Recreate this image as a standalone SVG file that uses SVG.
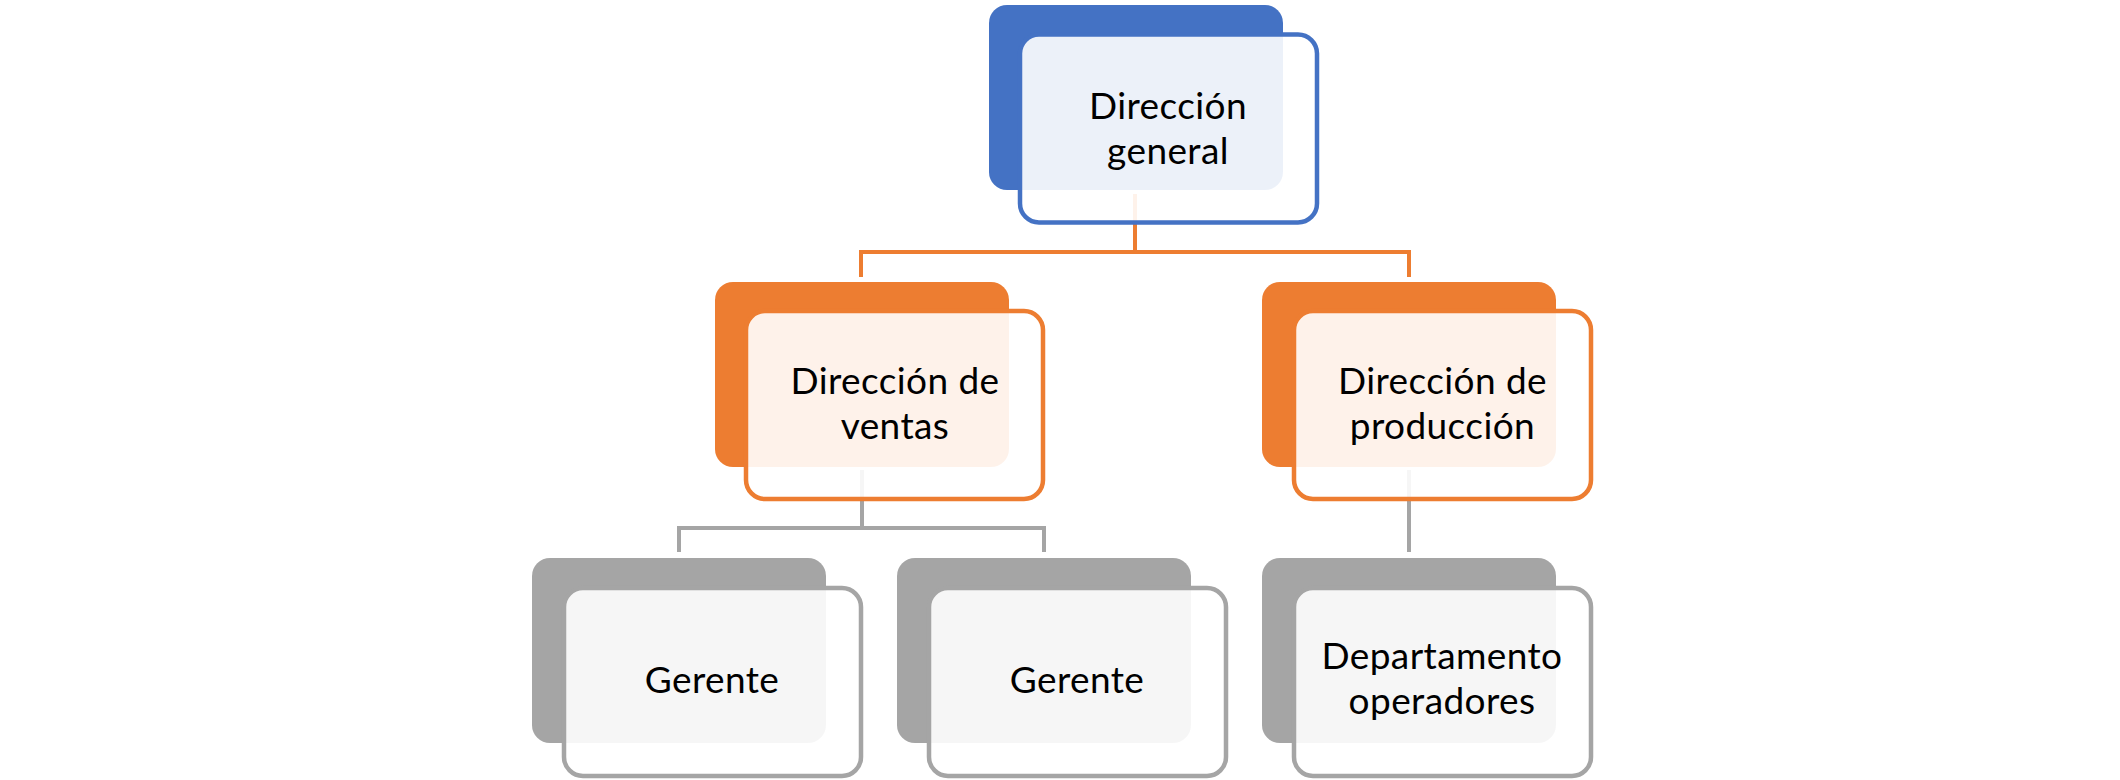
<svg xmlns="http://www.w3.org/2000/svg" width="2120" height="780" viewBox="0 0 2120 780">
<style>
.back{stroke:none}
.front{fill:#ffffff;fill-opacity:0.9;stroke-width:4.5}
.blue .back{fill:#4472C4}.blue .front{stroke:#4472C4}
.orange .back{fill:#ED7D31}.orange .front{stroke:#ED7D31}
.gray .back{fill:#A5A5A5}.gray .front{stroke:#A5A5A5}
.lbl{font-family:Lato,"Open Sans","Liberation Sans",sans-serif;font-size:37px;letter-spacing:0.4px;fill:#000000;text-anchor:middle}
.conn{fill:none;stroke-width:4;stroke-linejoin:miter}
</style>
<rect width="2120" height="780" fill="#ffffff"/>
<g id="connectors">
<path class="conn" stroke="#ED7D31" d="M1135 194 V252 M861 277 V252 H1409 V277"/>
<path class="conn" stroke="#A5A5A5" d="M862 470 V528 M679 552 V528 H1044 V552"/>
<path class="conn" stroke="#A5A5A5" d="M1409 470 V552"/>
</g>
<g id="node-direccion-general" class="blue">
<rect class="back" x="989" y="5" width="294" height="185" rx="18"/>
<rect class="front" x="1020" y="34.5" width="297" height="188" rx="19"/>
<text class="lbl" x="1168" y="119">Dirección</text>
<text class="lbl" x="1168" y="164">general</text>
</g>
<g id="node-direccion-ventas" class="orange">
<rect class="back" x="715" y="282" width="294" height="185" rx="18"/>
<rect class="front" x="746" y="311" width="297" height="188" rx="19"/>
<text class="lbl" x="895" y="394">Dirección de</text>
<text class="lbl" x="895" y="439">ventas</text>
</g>
<g id="node-direccion-produccion" class="orange">
<rect class="back" x="1262" y="282" width="294" height="185" rx="18"/>
<rect class="front" x="1294" y="311" width="297" height="188" rx="19"/>
<text class="lbl" x="1442.5" y="394">Dirección de</text>
<text class="lbl" x="1442.5" y="439">producción</text>
</g>
<g id="node-gerente-1" class="gray">
<rect class="back" x="532" y="558" width="294" height="185" rx="18"/>
<rect class="front" x="564" y="588" width="297" height="188" rx="19"/>
<text class="lbl" x="712" y="693">Gerente</text>
</g>
<g id="node-gerente-2" class="gray">
<rect class="back" x="897" y="558" width="294" height="185" rx="18"/>
<rect class="front" x="929" y="588" width="297" height="188" rx="19"/>
<text class="lbl" x="1077" y="693">Gerente</text>
</g>
<g id="node-departamento-operadores" class="gray">
<rect class="back" x="1262" y="558" width="294" height="185" rx="18"/>
<rect class="front" x="1294" y="588" width="297" height="188" rx="19"/>
<text class="lbl" x="1442" y="669">Departamento</text>
<text class="lbl" x="1442" y="714">operadores</text>
</g>
</svg>
